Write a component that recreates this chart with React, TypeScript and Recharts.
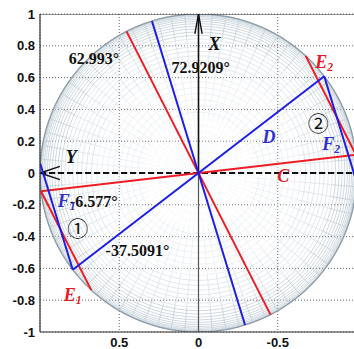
import { ComposedChart, Line, XAxis, YAxis, CartesianGrid, ReferenceDot } from "recharts";

// direction angles in degrees, measured in the chart's own x/y frame
const E_ANGLE = 62.993;
const F_ANGLE = 72.9209;
const C_ANGLE = -6.577;
const D_ANGLE = -37.5091;

const xTicks = [0.5, 0, -0.5];
const yTicks = [-1, -0.8, -0.6, -0.4, -0.2, 0, 0.2, 0.4, 0.6, 0.8, 1];

// sphere net seen from the pole: latitude rings + meridians
const RING_STEP = 2.5;
const MERIDIAN_STEP = 5;
const BAND_EDGES = [0, 0.35, 0.65, 0.85, 1.001];
const BAND_COLORS = ["#f5f8fa", "#e6edf1", "#d5dfe6", "#bccad3"];

const RED = "#ee1c24";
const BLUE = "#1d1de6";
const RED_TEXT = "#e41b23";
const BLUE_TEXT = "#3030d0";

type Pt = { x: number; y: number | null };

const rad = (deg: number) => (deg * Math.PI) / 180;
const onCircle = (deg: number, r = 1) => ({ x: r * Math.cos(rad(deg)), y: r * Math.sin(rad(deg)) });
const BREAK: Pt = { x: 0, y: null };

function buildBands(): Pt[][] {
  const bands: Pt[][] = BAND_COLORS.map(() => []);
  const bandOf = (r: number) => BAND_EDGES.findIndex((e, i) => r >= e && r < BAND_EDGES[i + 1]);

  for (let lat = RING_STEP; lat <= 90; lat += RING_STEP) {
    const r = Math.sin(rad(lat));
    const b = bandOf(r);
    for (let a = 0; a <= 360; a += MERIDIAN_STEP) bands[b].push(onCircle(a, r));
    bands[b].push(BREAK);
  }
  for (let a = 0; a < 360; a += MERIDIAN_STEP) {
    for (let b = 0; b < BAND_COLORS.length; b++) {
      const r0 = BAND_EDGES[b];
      const r1 = Math.min(BAND_EDGES[b + 1], 1);
      bands[b].push(onCircle(a, r0), onCircle(a, r1), BREAK);
    }
  }
  return bands;
}

const meshBands = buildBands();
const rim: Pt[] = [];
for (let a = 0; a <= 360; a += 2) rim.push(onCircle(a));

const diameter = (deg: number): Pt[] => {
  const p = onCircle(deg);
  return [p, { x: -p.x, y: -p.y }];
};

// chord starting at a point on the circle, running parallel to a direction
const chord = (fromDeg: number, dirDeg: number): Pt[] => {
  const p = onCircle(fromDeg);
  const u = onCircle(dirDeg);
  const t = 2 * (p.x * u.x + p.y * u.y);
  return [p, { x: p.x - t * u.x, y: p.y - t * u.y }];
};

const xArrow: Pt[] = [{ x: -0.023, y: 0.875 }, { x: 0, y: 1 }, { x: 0.023, y: 0.875 }];
const yArrow: Pt[] = [{ x: 0.874, y: 0.042 }, { x: 1, y: 0 }, { x: 0.874, y: -0.042 }];

type Note = {
  x: number;
  y: number;
  text: string;
  sub?: string;
  color: string;
  size: number;
  italic?: boolean;
  family?: string;
  weight?: number;
};

const SERIF = "'Liberation Serif', 'Times New Roman', serif";
const CJK = "'Noto Sans CJK SC', sans-serif";

const notes: Note[] = [
  { x: 0.819, y: 0.686, text: `${E_ANGLE}°`, color: "#111", size: 16 },
  { x: 0.17, y: 0.629, text: `${F_ANGLE}°`, color: "#111", size: 16 },
  { x: 0.586, y: -0.522, text: `${D_ANGLE}°`, color: "#111", size: 16 },
  { x: 0.812, y: -0.214, text: `${C_ANGLE}°`, color: "#111", size: 16 },
  { x: -0.063, y: 0.774, text: "X", color: "#111", size: 18, italic: true },
  { x: 0.838, y: 0.062, text: "Y", color: "#111", size: 18, italic: true },
  { x: -0.737, y: 0.661, text: "E", sub: "2", color: RED_TEXT, size: 18, italic: true },
  { x: 0.85, y: -0.805, text: "E", sub: "1", color: RED_TEXT, size: 18, italic: true },
  { x: -0.497, y: -0.057, text: "C", color: RED_TEXT, size: 18, italic: true },
  { x: -0.403, y: 0.189, text: "D", color: BLUE_TEXT, size: 18, italic: true },
  { x: -0.781, y: 0.144, text: "F", sub: "2", color: BLUE_TEXT, size: 18, italic: true },
  { x: 0.888, y: -0.214, text: "F", sub: "1", color: BLUE_TEXT, size: 18, italic: true },
  { x: -0.69, y: 0.262, text: "②", color: "#111", size: 21, family: CJK, weight: 400 },
  { x: 0.828, y: -0.398, text: "①", color: "#111", size: 21, family: CJK, weight: 400 },
];

const tickStyle = { fontSize: 13, fontWeight: 700, fill: "#111", fontFamily: "'Liberation Sans', Arial, sans-serif" };

function seg(data: Pt[], stroke: string, width: number, dash?: string) {
  return (
    <Line
      data={data}
      dataKey="y"
      type="linear"
      stroke={stroke}
      strokeWidth={width}
      strokeDasharray={dash}
      dot={false}
      activeDot={false}
      connectNulls={false}
      isAnimationActive={false}
    />
  );
}

export default function App() {
  return (
    <div style={{ position: "absolute", left: 0, top: 0, width: 354, height: 349, overflow: "hidden", background: "#fff" }}>
      <ComposedChart width={360} height={349} margin={{ top: 14, right: 3, bottom: 0, left: 0 }}>
        <XAxis
          type="number"
          dataKey="x"
          domain={[-1, 1]}
          reversed
          allowDataOverflow
          ticks={xTicks}
          interval={0}
          tickLine={false}
          tickSize={0}
          tickMargin={6}
          height={17}
          axisLine={{ stroke: "#333", strokeWidth: 1.2 }}
          tick={tickStyle}
        />
        <YAxis
          type="number"
          domain={[-1, 1]}
          allowDataOverflow
          ticks={yTicks}
          interval={0}
          tickLine={false}
          tickSize={0}
          tickMargin={5}
          width={40}
          axisLine={{ stroke: "#333", strokeWidth: 1.2 }}
          tick={tickStyle}
        />

        {meshBands.map((band, i) => (
          <Line
            key={`band-${i}`}
            data={band}
            dataKey="y"
            type="linear"
            stroke={BAND_COLORS[i]}
            strokeWidth={0.7}
            dot={false}
            activeDot={false}
            connectNulls={false}
            isAnimationActive={false}
          />
        ))}
        {seg(rim, "#8d9ca8", 1.3)}

        <CartesianGrid stroke="#666" strokeDasharray="1 2" fill="none" />

        {/* frame top edge */}
        {seg([{ x: 1, y: 1 }, { x: -1, y: 1 }], "#333", 1.2)}

        {/* lower half of the vertical axis and the horizontal Y axis */}
        {seg([{ x: 0, y: -1 }, { x: 0, y: 0 }], "#555", 1.2)}
        {seg([{ x: 1, y: 0 }, { x: -1, y: 0 }], "#111", 2, "6 3")}
        {seg(yArrow, "#111", 1.4)}
        {seg([{ x: 0, y: 0 }, { x: 0, y: 1 }], "#111", 1.6)}
        {seg(xArrow, "#111", 1.4)}

        {seg(diameter(E_ANGLE), RED, 2)}
        {seg(diameter(C_ANGLE), RED, 2)}
        {seg(chord(C_ANGLE, E_ANGLE), RED, 2)}
        {seg(chord(C_ANGLE + 180, E_ANGLE), RED, 2)}

        {seg(diameter(F_ANGLE), BLUE, 2)}
        {seg(diameter(D_ANGLE), BLUE, 2)}
        {seg(chord(D_ANGLE, F_ANGLE), BLUE, 2)}
        {seg(chord(D_ANGLE + 180, F_ANGLE), BLUE, 2)}

        {notes.map((n, i) => (
          <ReferenceDot
            key={`note-${i}`}
            x={n.x}
            y={n.y}
            r={1}
            ifOverflow="extendDomain"
            shape={(p: any) => (
              <text
                x={p.cx}
                y={p.cy}
                fill={n.color}
                fontSize={n.size}
                fontFamily={n.family ?? SERIF}
                fontWeight={n.weight ?? 700}
                fontStyle={n.italic ? "italic" : "normal"}
              >
                {n.text}
                {n.sub && (
                  <tspan fontSize={n.size * 0.65} dy={n.size * 0.15}>
                    {n.sub}
                  </tspan>
                )}
              </text>
            )}
          />
        ))}
      </ComposedChart>
    </div>
  );
}
